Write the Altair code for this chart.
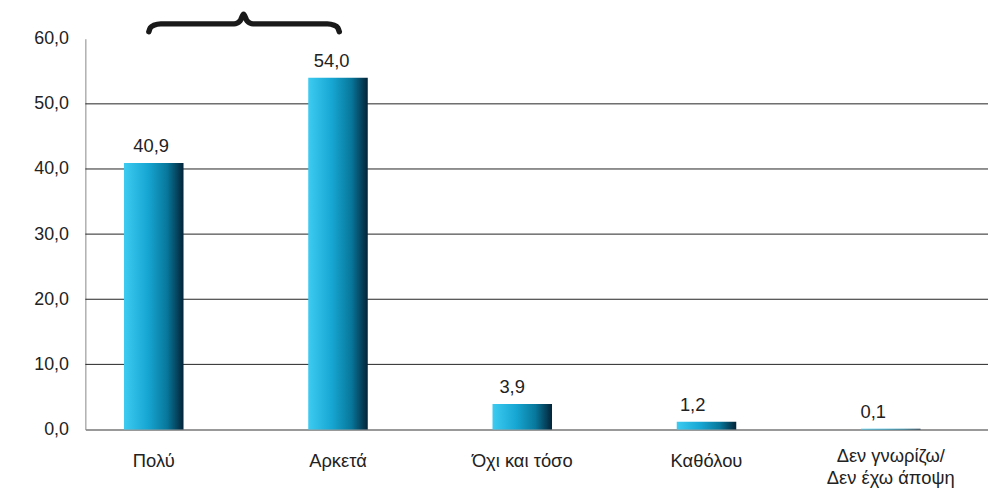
import altair as alt
import pandas as pd

categories = ["Πολύ", "Αρκετά", "Όχι και τόσο", "Καθόλου", "Δεν γνωρίζω/\nΔεν έχω άποψη"]
values = [40.9, 54.0, 3.9, 1.2, 0.1]
y_ticks = [0, 10, 20, 30, 40, 50, 60]
grid_values = [10, 20, 30, 40, 50]

# Decorative brace over the first two bars (x in category-index units, y in data units)
brace_x = [-0.0264, -0.0183, 0.0005, 0.0382, 0.4366, 0.4689, 0.4877,
           0.5066, 0.5389, 0.9426, 0.9795, 0.9992, 1.0073]
brace_y = [61.07, 61.68, 62.06, 62.28, 62.28, 62.74, 63.75,
           62.74, 62.28, 62.28, 62.06, 61.68, 61.07]

df = pd.DataFrame({"cat": categories, "val": values})
grid_df = pd.DataFrame({"g": grid_values})
brace_df = pd.DataFrame({"bx": brace_x, "by": brace_y, "o": list(range(len(brace_x)))})

FONT = "Liberation Sans"
yscale = alt.Scale(domain=[0, 60], nice=False)
xscale = alt.Scale(domain=categories, paddingInner=0.677, paddingOuter=0.288, align=0.364)

y_axis = alt.Axis(values=y_ticks, grid=False, domainColor="#888", domainWidth=1,
                  ticks=False, tickSize=0, labelPadding=17,
                  labelFont=FONT, labelFontSize=18, labelColor="#222",
                  labelExpr="replace(format(datum.value, '.1f'), '.', ',')")

grad = alt.Gradient(
    gradient="linear", x1=0, x2=1, y1=0, y2=0,
    stops=[
        alt.GradientStop(color="#3dcbf1", offset=0),
        alt.GradientStop(color="#16a6d2", offset=0.4),
        alt.GradientStop(color="#08789c", offset=0.72),
        alt.GradientStop(color="#042337", offset=1),
    ],
)

grid = alt.Chart(grid_df).mark_rule(color="#222", strokeWidth=1).encode(
    y=alt.Y("g:Q", scale=yscale, title=None, axis=y_axis)
)

bars = alt.Chart(df).mark_bar(color=grad, size=60).encode(
    x=alt.X("cat:N", scale=xscale, sort=categories, title=None,
            axis=alt.Axis(domainColor="#999", domainWidth=2, ticks=False, tickSize=0,
                          labelPadding={"condition": {"test": "indexof(datum.value, '/') >= 0",
                                                      "value": 26}, "value": 31},
                          labelBaseline="middle", labelAngle=0,
                          labelFont=FONT, labelFontSize=18.5, labelColor="#222",
                          labelLineHeight=22, labelExpr="split(datum.label, '\\n')")),
    y=alt.Y("val:Q", scale=yscale, title=None, axis=y_axis),
)

text = alt.Chart(df).transform_calculate(
    lbl="replace(format(datum.val, '.1f'), '.', ',')"
).mark_text(dy=-17, baseline="middle", fontSize=18.5, font=FONT, color="#222").encode(
    x=alt.X("cat:N", scale=xscale, sort=categories, axis=None),
    y=alt.Y("val:Q", scale=yscale, title=None, axis=y_axis),
    text="lbl:N",
)

brace = alt.Chart(brace_df).mark_line(
    color="#1a1a1a", strokeWidth=5.5, interpolate="monotone", strokeCap="round"
).encode(
    x=alt.X("bx:Q", scale=alt.Scale(domain=[-0.3709, 4.528], nice=False, zero=False), axis=None),
    y=alt.Y("by:Q", scale=yscale, title=None, axis=y_axis),
    order="o:O",
)

chart = alt.layer(grid, bars, text, brace).resolve_scale(x="independent").properties(
    width=910, height=394,
    autosize=alt.AutoSizeParams(type="none"),
    padding={"left": 78, "top": 29, "right": 0, "bottom": 58},
).configure_view(stroke=None)

chart.save("out.html", embed_options={"renderer": "svg", "actions": False})
